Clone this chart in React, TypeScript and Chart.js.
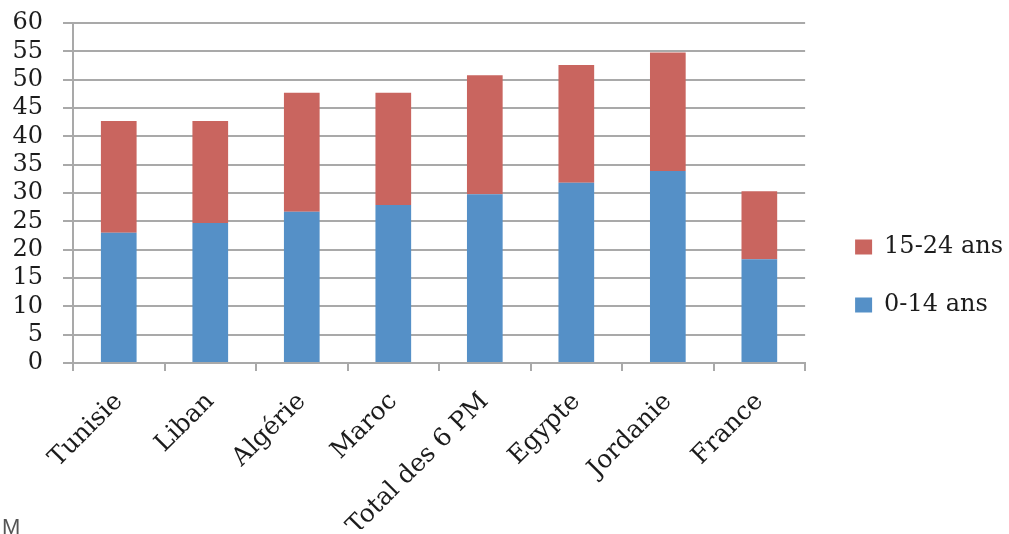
import React, { useEffect, useRef } from "react";
import { Chart, registerables } from "chart.js";

Chart.register(...registerables);

const categories = ["Tunisie", "Liban", "Algérie", "Maroc", "Total des 6 PM", "Egypte", "Jordanie", "France"];
const ages0to14 = [23.0, 24.7, 26.7, 27.9, 29.8, 31.8, 33.9, 18.3];
const ages15to24 = [19.7, 18.0, 21.0, 19.8, 21.0, 20.8, 20.9, 12.0];
const seriesLabels = ["0-14 ans", "15-24 ans"];
const yMin = 0;
const yMax = 60;
const yStep = 5;

const BLUE = "#5590c7";
const RED = "#c9655f";
const GRID = "#a9a9a9";
const TEXT = "#1c1c1c";
const SERIF = "'DejaVu Serif', serif";

export default function App() {
  const ref = useRef<HTMLCanvasElement | null>(null);

  useEffect(() => {
    if (!ref.current) return;
    const chart = new Chart(ref.current, {
      type: "bar",
      data: {
        labels: categories,
        datasets: [
          { label: seriesLabels[0], data: ages0to14, backgroundColor: BLUE, borderWidth: 0 },
          { label: seriesLabels[1], data: ages15to24, backgroundColor: RED, borderWidth: 0 },
        ],
      },
      options: {
        responsive: false,
        animation: false,
        layout: { padding: { top: 23, left: 0, right: -4, bottom: 5 } },
        datasets: { bar: { barPercentage: 0.39, categoryPercentage: 1 } },
        plugins: {
          tooltip: { enabled: false },
          legend: {
            position: "right",
            reverse: true,
            maxWidth: 300,
            labels: {
              boxWidth: 17,
              boxHeight: 15,
              padding: 34,
              color: TEXT,
              font: { family: SERIF, size: 24 },
            },
          },
        },
        scales: {
          x: {
            stacked: true,
            grid: { display: true, drawOnChartArea: false, drawTicks: true, tickLength: 8, color: GRID, lineWidth: 2 },
            border: { display: true, color: GRID, width: 2 },
            ticks: {
              color: TEXT,
              font: { family: SERIF, size: 25 },
              minRotation: 45,
              maxRotation: 45,
              autoSkip: false,
              padding: 16,
            },
            afterFit: (s: any) => {
              s.height = 166;
            },
          },
          y: {
            stacked: true,
            min: yMin,
            max: yMax,
            grid: { color: GRID, lineWidth: 2, tickLength: 10, drawTicks: true },
            border: { display: true, color: GRID, width: 2 },
            ticks: {
              stepSize: yStep,
              autoSkip: false,
              color: TEXT,
              font: { family: SERIF, size: 24 },
              padding: 20,
            },
            afterFit: (s: any) => {
              s.width = 73;
              s.paddingTop = 0;
            },
          },
          y2: {
            position: "right",
            display: true,
            grid: { display: false },
            border: { display: false },
            ticks: { display: false },
            afterFit: (s: any) => {
              s.width = 16;
            },
          },
        },
      },
    });
    return () => chart.destroy();
  }, []);

  return (
    <div style={{ position: "fixed", left: 0, top: 0, width: 1009, height: 534, overflow: "hidden", background: "#fff" }}>
      <canvas ref={ref} width={1009} height={534} />
      <span
        style={{
          position: "absolute",
          left: 2,
          top: 516,
          fontFamily: "'Liberation Sans', sans-serif",
          fontSize: 22,
          lineHeight: 1,
          color: "#555",
        }}
      >
        M
      </span>
    </div>
  );
}
